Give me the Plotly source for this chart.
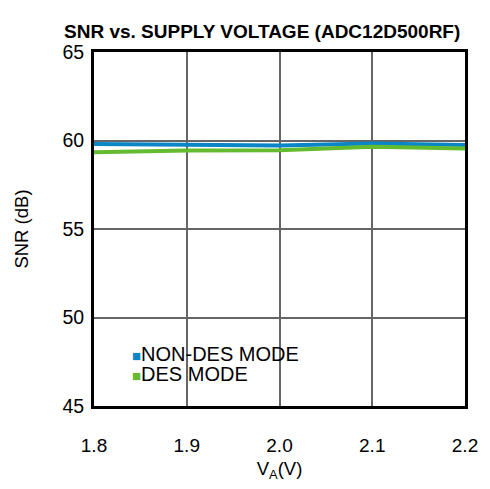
import plotly.graph_objects as go

supply_v = [1.8, 1.9, 2.0, 2.1, 2.2]
snr_non_des = [59.8, 59.74, 59.72, 59.83, 59.75]
snr_des = [59.33, 59.44, 59.45, 59.65, 59.55]
series_names = ["NON-DES MODE", "DES MODE"]

blue = "#0a86c6"
green = "#64bb2f"
font = "Liberation Sans, Arial, sans-serif"

fig = go.Figure()
fig.add_trace(go.Scatter(x=supply_v, y=snr_non_des, mode="lines", name=series_names[0],
                         line=dict(color=blue, width=4), showlegend=False))
fig.add_trace(go.Scatter(x=supply_v, y=snr_des, mode="lines", name=series_names[1],
                         line=dict(color=green, width=4), showlegend=False))

# compact legend: coloured square swatch + label, one per row
for i, (name, col) in enumerate(zip(series_names, [blue, green])):
    fig.add_annotation(
        xref="paper", yref="paper", x=0.098, y=0.148 - i * 0.056,
        xanchor="left", yanchor="middle", showarrow=False,
        height=19, valign="middle",
        text=f"<span style='color:{col};font-size:15px'>■</span>{name}",
        font=dict(size=20, color="black", family=font),
    )

fig.update_layout(
    width=490, height=489,
    margin=dict(l=94, r=21, t=52, b=81),
    paper_bgcolor="white", plot_bgcolor="white",
    font=dict(family=font, size=19, color="black"),
    title=dict(text="<b>SNR vs. SUPPLY VOLTAGE (ADC12D500RF)</b>",
               x=0.535, xanchor="center", y=0.935, yanchor="middle",
               font=dict(size=19)),
    showlegend=False,
    xaxis=dict(range=[1.8, 2.2], tickvals=supply_v,
               ticktext=["1.8", "1.9", "2.0", "2.1", "2.2"],
               showgrid=True, gridcolor="#666", gridwidth=1.5,
               showline=True, linecolor="black", linewidth=3, mirror=True,
               ticks="", ticklabelstandoff=20, zeroline=False,
               title=dict(text="V<sub>A</sub>(V)", standoff=8,
                          font=dict(size=18.5, family=font))),
    yaxis=dict(range=[45, 65], tickvals=[45, 50, 55, 60, 65],
               showgrid=True, gridcolor="#666", gridwidth=1.5,
               showline=True, linecolor="black", linewidth=3, mirror=True,
               ticks="", ticklabelstandoff=3, zeroline=False,
               tickfont=dict(size=19.5),
               title=dict(text="SNR (dB)", standoff=29,
                          font=dict(size=18.5, family=font))),
)

fig.write_html("out.html")
